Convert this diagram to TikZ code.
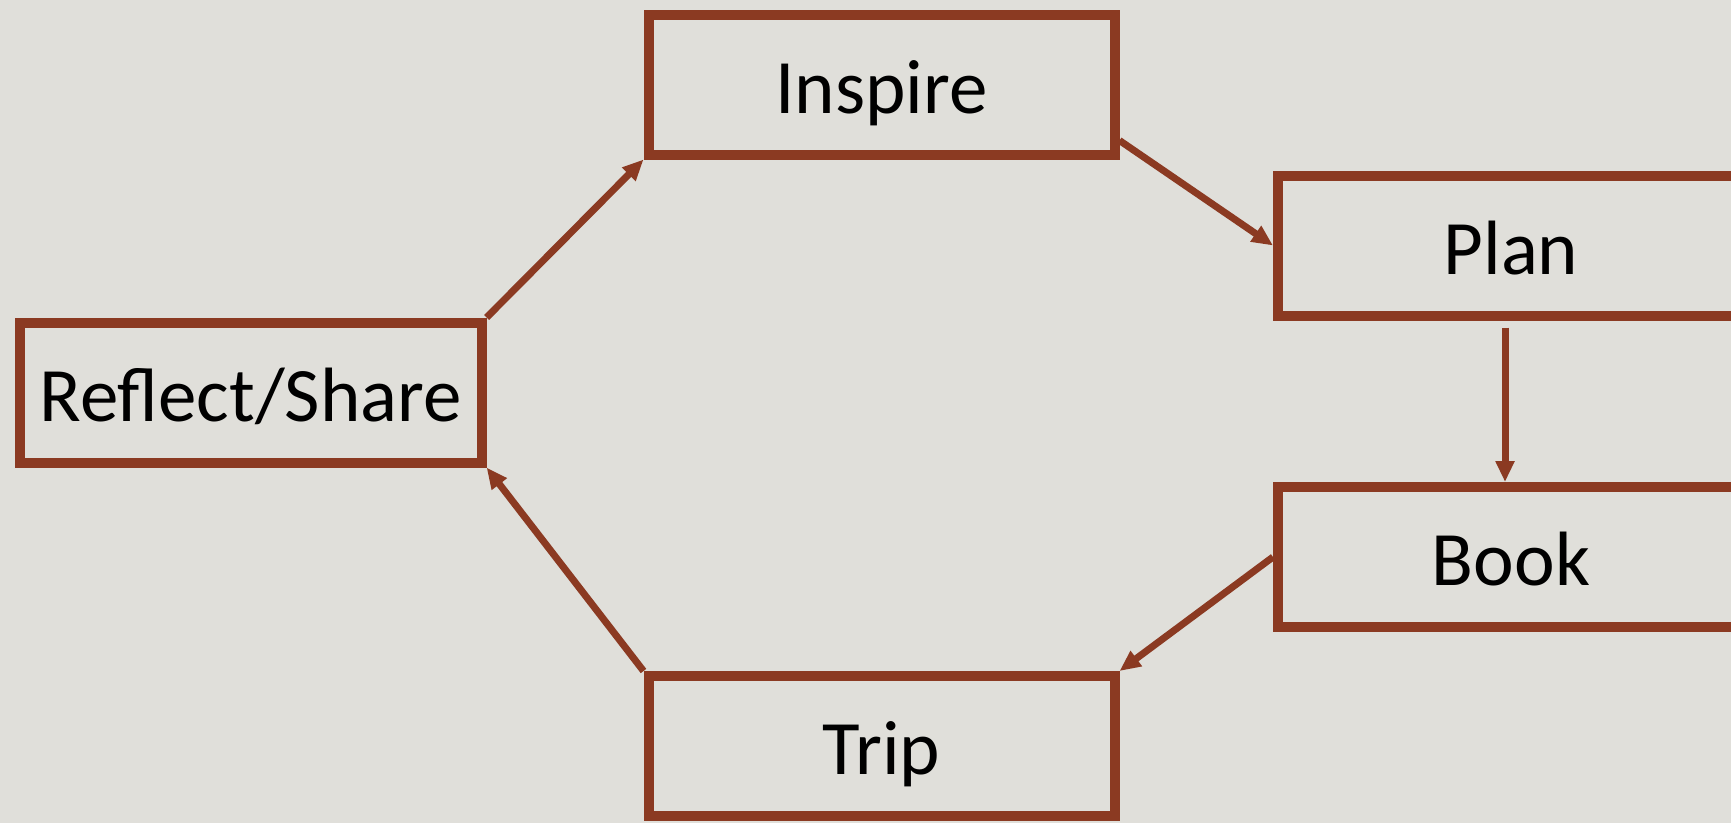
\documentclass[tikz,border=0pt]{standalone}
\usepackage{fontspec}
\setmainfont{Carlito}
\usetikzlibrary{arrows.meta,calc}
\definecolor{bg}{RGB}{224,223,218}
\definecolor{brn}{RGB}{139,58,34}
\begin{document}
\begin{tikzpicture}[x=1pt,y=-1pt,
  box/.style={draw=brn, line width=10pt, minimum width=466pt, minimum height=140pt,
    inner sep=0pt, font=\fontsize{77}{90}\selectfont, text=black,
    text height=57pt, text depth=0pt},
  conn/.style={draw=brn, line width=7pt, -{Triangle[length=21pt,width=18pt]}}]
\fill[bg] (0,0) rectangle (1731,823);
\useasboundingbox (0,0) rectangle (1731,823);
\node[box] (inspire) at (881.5,84.5) {Inspire};
\node[box] (plan) at (1511,245.5) {Plan};
\node[box] (book) at (1511,557) {Book};
\node[box] (trip) at (881.5,746) {Trip};
\node[box, minimum width=462pt] (reflect) at (250.6,392.5) {Reflect/Share};
\draw[conn] (reflect.north east) -- (inspire.south west);
\draw[conn] ([yshift=-56pt]inspire.east) -- (plan.west);
\draw[conn] ([xshift=-6pt,yshift=-7pt]plan.south) -- ([xshift=-6pt]book.north);
\draw[conn] (book.west) -- (trip.north east);
\draw[conn] (trip.north west) -- (reflect.south east);
\end{tikzpicture}
\end{document}
